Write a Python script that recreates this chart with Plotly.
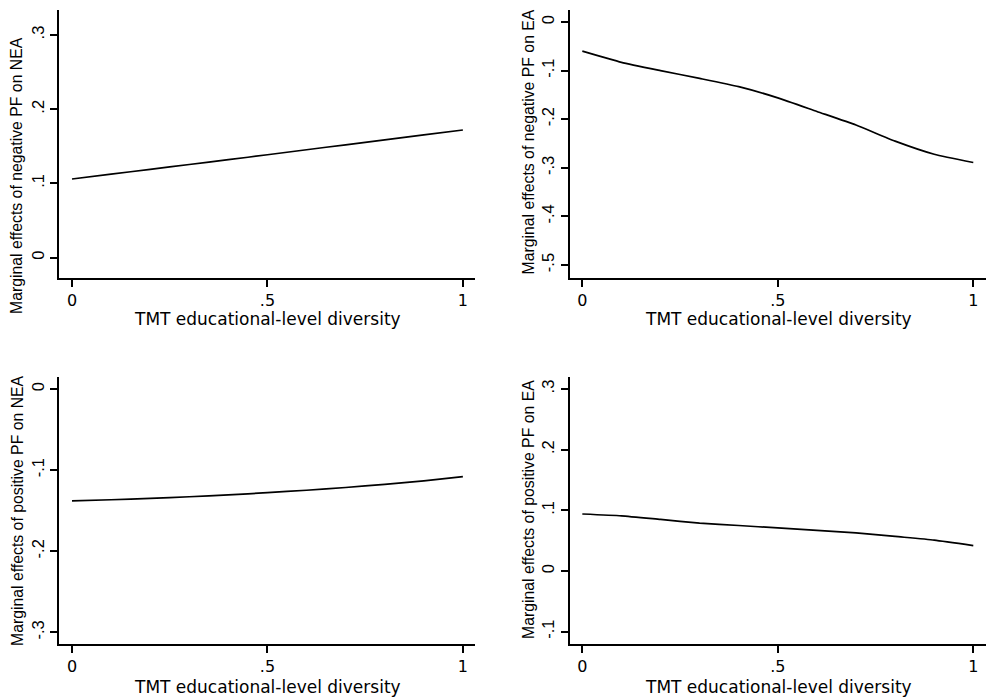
import plotly.graph_objects as go

x_vals = [0, 0.1, 0.2, 0.3, 0.4, 0.5, 0.6, 0.7, 0.8, 0.9, 1.0]

neg_pf_nea = [0.106, 0.1125, 0.119, 0.1255, 0.132, 0.1387, 0.1454, 0.1521, 0.1588, 0.1655, 0.172]
neg_pf_ea = [-0.060, -0.083, -0.100, -0.116, -0.133, -0.156, -0.184, -0.212, -0.245, -0.272, -0.289]
pos_pf_nea = [-0.138, -0.1365, -0.1348, -0.1328, -0.1305, -0.1278, -0.1248, -0.1214, -0.1176, -0.1132, -0.108]
pos_pf_ea = [0.094, 0.091, 0.085, 0.079, 0.075, 0.071, 0.067, 0.063, 0.057, 0.051, 0.042]

x_tickvals = [0, 0.5, 1]
x_ticktext = ["0", ".5", "1"]

y1_vals = [0, 0.1, 0.2, 0.3]
y1_text = ["0", ".1", ".2", ".3"]
y2_vals = [0, -0.1, -0.2, -0.3, -0.4, -0.5]
y2_text = ["0", "-.1", "-.2", "-.3", "-.4", "-.5"]
y3_vals = [0, -0.1, -0.2, -0.3]
y3_text = ["0", "-.1", "-.2", "-.3"]
y4_vals = [0.3, 0.2, 0.1, 0, -0.1]
y4_text = [".3", ".2", ".1", "0", "-.1"]

x_title = "TMT educational-level diversity"
y_titles = [
    "Marginal effects of negative PF on NEA",
    "Marginal effects of negative PF on EA",
    "Marginal effects of positive PF on NEA",
    "Marginal effects of positive PF on EA",
]

W, H = 986, 699
ARIAL = "Arial, 'Liberation Sans', sans-serif"
WIDE = "'DejaVu Sans', Arial, sans-serif"

fig = go.Figure()

series = [neg_pf_nea, neg_pf_ea, pos_pf_nea, pos_pf_ea]
for i, ys in enumerate(series):
    sfx = "" if i == 0 else str(i + 1)
    fig.add_trace(go.Scatter(x=x_vals, y=ys, mode="lines",
                             line=dict(color="black", width=1.7, shape="spline", smoothing=0.5),
                             xaxis="x" + sfx, yaxis="y" + sfx, showlegend=False,
                             hoverinfo="skip"))

def px_x(p):
    return p / W

def px_y(p):
    return 1 - p / H

left_dom = [px_x(59.3), px_x(475)]
right_dom = [px_x(570), 1.0]
top_dom = [px_y(277.5), px_y(10)]
bot_dom = [px_y(644), px_y(376.7)]

common_x = dict(showline=True, linecolor="black", linewidth=2, ticks="outside",
                ticklen=7, tickwidth=2, tickcolor="black", showgrid=False, zeroline=False,
                tickvals=x_tickvals, ticktext=x_ticktext,
                tickfont=dict(family=WIDE, size=16, color="black"))
common_y = dict(showline=True, linecolor="black", linewidth=2, ticks="outside",
                ticklen=7, tickwidth=2, tickcolor="black", showgrid=False, zeroline=False,
                tickangle=-90, tickfont=dict(family=ARIAL, size=16.5, color="black"))

fig.update_layout(
    width=W, height=H, margin=dict(l=0, r=0, t=0, b=0),
    paper_bgcolor="white", plot_bgcolor="white",
    font=dict(family=ARIAL, color="black"),
    xaxis=dict(domain=left_dom, range=[-0.0325, 1.031], anchor="y", **common_x),
    yaxis=dict(domain=top_dom, range=[-0.0267, 0.3337], anchor="x",
               tickvals=y1_vals, ticktext=y1_text, **common_y),
    xaxis2=dict(domain=right_dom, range=[-0.0315, 1.0325], anchor="y2", **common_x),
    yaxis2=dict(domain=top_dom, range=[-0.5257, 0.0247], anchor="x2",
                tickvals=y2_vals, ticktext=y2_text, **common_y),
    xaxis3=dict(domain=left_dom, range=[-0.0325, 1.031], anchor="y3", **common_x),
    yaxis3=dict(domain=bot_dom, range=[-0.3144, 0.0152], anchor="x3",
                tickvals=y3_vals, ticktext=y3_text, **common_y),
    xaxis4=dict(domain=right_dom, range=[-0.0315, 1.0325], anchor="y4", **common_x),
    yaxis4=dict(domain=bot_dom, range=[-0.1203, 0.3203], anchor="x4",
                tickvals=y4_vals, ticktext=y4_text, **common_y),
)

xt_pos = [(267.5, 319), (778, 319), (267.5, 687), (778, 687)]
yt_pos = [(16, 176), (528, 142.5), (17, 511), (528, 510)]

anns = []
for (xp, yp) in xt_pos:
    anns.append(dict(text=x_title, x=px_x(xp), y=px_y(yp), xref="paper", yref="paper",
                     xanchor="center", yanchor="middle", showarrow=False,
                     font=dict(family=WIDE, size=17, color="black")))
for (xp, yp), t in zip(yt_pos, y_titles):
    anns.append(dict(text=t, x=px_x(xp), y=px_y(yp), xref="paper", yref="paper",
                     xanchor="center", yanchor="middle", showarrow=False, textangle=-90,
                     font=dict(family=ARIAL, size=15.8, color="black")))
fig.update_layout(annotations=anns)

fig.write_html("out.html", config={"displayModeBar": False},
               post_script="document.body.style.margin='0';")
